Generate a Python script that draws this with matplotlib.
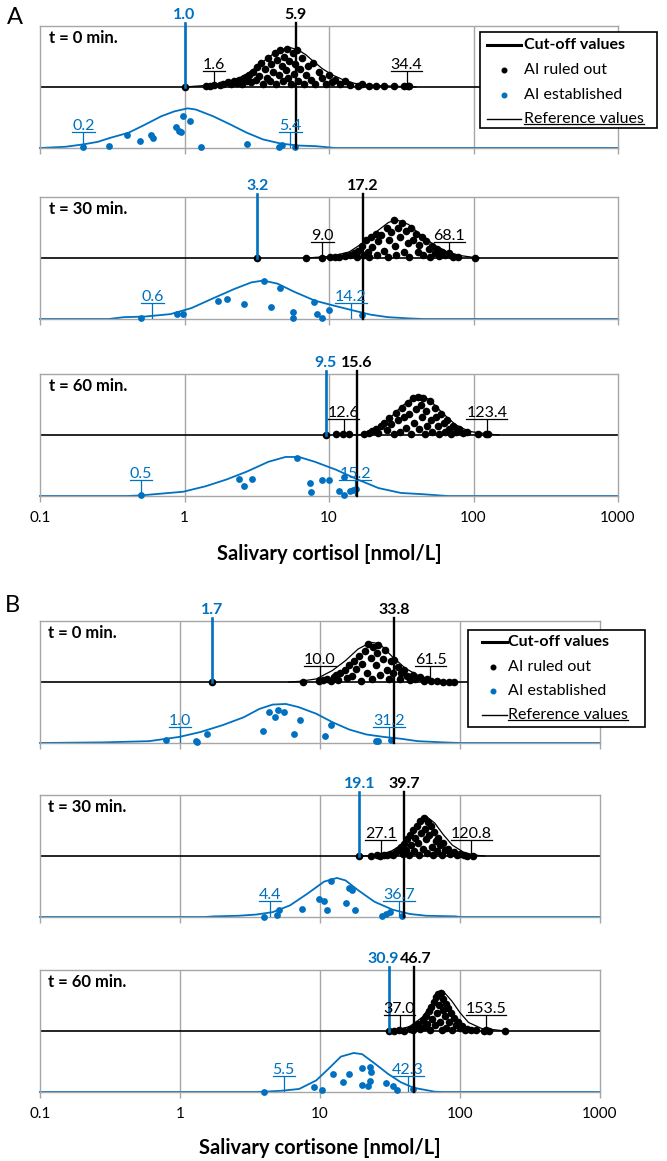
import matplotlib
matplotlib.use('Agg')
import matplotlib.pyplot as plt
from matplotlib.lines import Line2D
from matplotlib.patches import Rectangle
from matplotlib.ticker import NullLocator

plt.rcParams['font.family'] = ['Lato', 'DejaVu Sans']

# ---------------- data ----------------
time_labels = ['t = 0 min.', 't = 30 min.', 't = 60 min.']
tick_values = [0.1, 1, 10, 100, 1000]
tick_labels = ['0.1', '1', '10', '100', '1000']
xlabel_A = 'Salivary cortisol [nmol/L]'
xlabel_B = 'Salivary cortisone [nmol/L]'
legend_labels = ['Cut-off values', 'AI ruled out', 'AI established', 'Reference values']

# cut-off values (blue = AI established, black = AI ruled out)
A_cut_blue = [1.0, 3.2, 9.5]
A_cut_black = [5.9, 17.2, 15.6]
B_cut_blue = [1.7, 19.1, 30.9]
B_cut_black = [33.8, 39.7, 46.7]

# reference values (lower, upper)
A_ref_black = [(1.6, 34.4), (9.0, 68.1), (12.6, 123.4)]
A_ref_blue = [(0.2, 5.4), (0.6, 14.2), (0.5, 15.2)]
B_ref_black = [(10.0, 61.5), (27.1, 120.8), (37.0, 153.5)]
B_ref_blue = [(1.0, 31.2), (4.4, 36.7), (5.5, 42.3)]

# density curves: (value, relative height)
A1_black_curve = [(1.0, 0.0), (1.3, 0.02), (1.6, 0.04), (2.0, 0.08), (2.4, 0.15), (2.8, 0.24), (3.2, 0.34),
                  (3.7, 0.46), (4.2, 0.56), (4.8, 0.62), (5.4, 0.645), (6.1, 0.61), (6.9, 0.53), (7.8, 0.42),
                  (9.0, 0.30), (10.5, 0.2), (12.5, 0.12), (15, 0.06), (19, 0.03), (24, 0.02), (31, 0.01), (40, 0.0)]
A1_blue_curve = [(0.1, 0.0), (0.15, 0.02), (0.2, 0.06), (0.25, 0.1), (0.31, 0.17), (0.41, 0.25), (0.53, 0.38),
                 (0.69, 0.52), (0.85, 0.6), (1.05, 0.65), (1.2, 0.63), (1.58, 0.52), (2.1, 0.38), (2.7, 0.25),
                 (3.5, 0.14), (4.7, 0.07), (6.2, 0.04), (8.1, 0.03), (11, 0.0), (1000, 0.0)]
A2_black_curve = [(7, 0.0), (10.5, 0.03), (13.8, 0.1), (17, 0.24), (21, 0.42), (25.7, 0.58), (29, 0.63),
                  (35.5, 0.55), (43.6, 0.37), (53.7, 0.21), (66, 0.1), (81, 0.04), (100, 0.01), (110, 0.0)]
A2_blue_curve = [(0.1, 0.0), (0.3, 0.0), (0.38, 0.03), (0.53, 0.04), (0.8, 0.08), (1.12, 0.18), (1.58, 0.34),
                 (2.2, 0.49), (2.9, 0.6), (3.5, 0.63), (4.4, 0.58), (5.7, 0.45), (8.0, 0.3), (11.2, 0.21),
                 (14.7, 0.14), (19.5, 0.07), (25.6, 0.03), (35.5, 0.01), (45, 0.0), (1000, 0.0)]
A3_black_curve = [(15, 0.0), (17, 0.01), (21, 0.09), (25.7, 0.25), (31.5, 0.46), (38, 0.61), (44, 0.65),
                  (50, 0.57), (61, 0.36), (75, 0.17), (93, 0.06), (122, 0.02), (150, 0.0)]
A3_blue_curve = [(0.1, 0.0), (0.4, 0.0), (0.5, 0.01), (0.7, 0.04), (0.98, 0.07), (1.4, 0.16), (1.95, 0.27),
                 (2.7, 0.4), (3.8, 0.56), (5.0, 0.64), (6.2, 0.64), (8.0, 0.56), (11.2, 0.43), (15.8, 0.27),
                 (22, 0.13), (31.5, 0.05), (44, 0.03), (66, 0.0), (1000, 0.0)]
B1_black_curve = [(6, 0.0), (7.1, 0.01), (9.4, 0.05), (12.3, 0.19), (15.2, 0.35), (18.7, 0.54), (23, 0.65),
                  (26.6, 0.63), (33, 0.41), (41, 0.22), (50, 0.11), (62, 0.04), (82, 0.01), (95, 0.0)]
B1_blue_curve = [(0.1, 0.0), (0.28, 0.01), (0.6, 0.03), (0.99, 0.1), (1.4, 0.18), (2.0, 0.29), (2.84, 0.42),
                 (3.7, 0.56), (4.6, 0.63), (5.7, 0.64), (7.0, 0.59), (9.4, 0.48), (12.3, 0.34), (16.2, 0.22),
                 (21.4, 0.14), (28.5, 0.1), (37.7, 0.07), (50, 0.03), (76, 0.01), (100, 0.0), (1000, 0.0)]
B2_black_curve = [(20, 0.0), (24.5, 0.01), (30.8, 0.05), (38, 0.18), (43.8, 0.35), (50, 0.54), (57.5, 0.65),
                  (66, 0.54), (76, 0.35), (88, 0.18), (108, 0.05), (134, 0.01), (150, 0.0)]
B2_blue_curve = [(0.1, 0.0), (1.5, 0.0), (1.74, 0.01), (2.6, 0.02), (3.5, 0.04), (4.6, 0.08), (6.1, 0.19),
                 (8.1, 0.38), (10.7, 0.58), (13.2, 0.64), (15.2, 0.6), (18.7, 0.44), (24.5, 0.25), (33, 0.12),
                 (43.7, 0.05), (57.5, 0.02), (93, 0.01), (100, 0.0), (1000, 0.0)]
B3_black_curve = [(30, 0.0), (35, 0.02), (43.4, 0.07), (53.5, 0.22), (61.6, 0.41), (71, 0.63), (76, 0.65),
                  (87.5, 0.49), (100, 0.3), (115, 0.14), (143, 0.04), (177, 0.02), (210, 0.0)]
B3_blue_curve = [(0.1, 0.0), (3.5, 0.0), (4.0, 0.005), (5.3, 0.02), (7.1, 0.05), (9.4, 0.19), (11.5, 0.38),
                 (14.1, 0.58), (17.4, 0.64), (20, 0.62), (24.5, 0.47), (30.5, 0.3), (37.8, 0.16), (46.5, 0.07),
                 (57.7, 0.03), (66, 0.005), (75, 0.0), (1000, 0.0)]

# individual patients: (value, jitter height)
A1_black_dots = [(1.0, 0), (1.4, 0.02), (1.5, 0.02), (1.6, 0.03), (1.75, 0.03), (1.85, 0.05), (2.0, 0.08), (2.1, 0.05),
                 (2.2, 0.1), (2.3, 0.07), (2.4, 0.12), (2.5, 0.05), (2.6, 0.15), (2.7, 0.1), (2.8, 0.2), (2.9, 0.08),
                 (3.0, 0.25), (3.1, 0.12), (3.2, 0.33), (3.3, 0.18), (3.4, 0.4), (3.5, 0.05), (3.6, 0.3), (3.7, 0.15),
                 (3.8, 0.47), (3.9, 0.1), (4.0, 0.38), (4.1, 0.25), (4.2, 0.55), (4.3, 0.05), (4.4, 0.45), (4.5, 0.2),
                 (4.6, 0.6), (4.7, 0.35), (4.8, 0.1), (4.9, 0.5), (5.0, 0.28), (5.1, 0.62), (5.2, 0.15), (5.3, 0.42),
                 (5.5, 0.05), (5.6, 0.55), (5.7, 0.22), (5.8, 0.38), (6.0, 0.6), (6.1, 0.1), (6.3, 0.3), (6.5, 0.48),
                 (6.7, 0.05), (6.9, 0.2), (7.2, 0.35), (7.5, 0.12), (7.8, 0.4), (8.0, 0.05), (8.5, 0.25), (9.0, 0.15),
                 (9.5, 0.05), (10, 0.2), (10.5, 0.08), (11, 0.12), (12, 0.05), (13, 0.1), (14, 0.03), (16, 0.02),
                 (17, 0.05), (19, 0.02), (21, 0.02), (24, 0.01), (28, 0.01), (33, 0.01), (35, 0.01), (36, 0.01)]
A2_black_dots = [(3.2, 0), (6.9, 0), (8.9, 0), (10.2, 0.01), (11, 0.01), (11.8, 0.02), (13, 0.03), (14, 0.05),
                 (15, 0.08), (15.5, 0.02), (16, 0.12), (17, 0.2), (17.5, 0.05), (18, 0.3), (18.5, 0.1), (19, 0.02),
                 (19.5, 0.35), (20, 0.18), (21, 0.4), (21.5, 0.05), (22, 0.28), (23, 0.38), (24, 0.12), (25, 0.5),
                 (25.5, 0.02), (26, 0.3), (27, 0.42), (28, 0.62), (28.5, 0.2), (29, 0.05), (30, 0.5), (31, 0.35),
                 (32, 0.58), (33, 0.1), (34, 0.45), (35, 0.25), (36, 0.02), (37, 0.5), (38, 0.3), (40, 0.4),
                 (41, 0.1), (42, 0.22), (44, 0.35), (45, 0.05), (47, 0.28), (49, 0.15), (50, 0.02), (52, 0.2),
                 (54, 0.08), (56, 0.15), (58, 0.03), (61, 0.1), (64, 0.05), (68, 0.08), (72, 0.02), (78, 0.02),
                 (103, 0.0)]
A3_black_dots = [(9.5, 0), (11.2, 0.01), (12.5, 0.01), (13.8, 0.02), (17.5, 0.02), (19, 0.03), (20, 0.06), (21, 0.1),
                 (22, 0.03), (23, 0.15), (24, 0.2), (25, 0.08), (26, 0.28), (27, 0.18), (28, 0.02), (29, 0.36),
                 (30, 0.25), (31, 0.05), (32, 0.45), (33, 0.3), (34, 0.12), (35, 0.52), (36, 0.35), (37, 0.02),
                 (38, 0.6), (39, 0.2), (40, 0.42), (41, 0.62), (42, 0.1), (43, 0.5), (44, 0.3), (45, 0.6),
                 (46, 0.02), (47, 0.4), (48, 0.15), (50, 0.55), (51, 0.25), (52, 0.05), (54, 0.45), (55, 0.3),
                 (57, 0.15), (58, 0.02), (60, 0.35), (62, 0.2), (64, 0.05), (66, 0.25), (68, 0.1), (70, 0.02),
                 (72, 0.15), (76, 0.05), (80, 0.1), (85, 0.03), (90, 0.05), (107, 0.01), (122, 0.02), (126, 0.01)]
B1_black_dots = [(1.7, 0), (7.6, 0), (9.9, 0.01), (10.5, 0.03), (11.2, 0.05), (12, 0.02), (12.5, 0.08), (13, 0.12),
                 (13.5, 0.04), (14, 0.15), (15, 0.2), (15.5, 0.06), (16, 0.28), (17, 0.1), (17.5, 0.35), (18, 0.22),
                 (19, 0.42), (19.5, 0.02), (20, 0.3), (21, 0.5), (21.5, 0.15), (22, 0.62), (23, 0.4), (23.5, 0.05),
                 (24, 0.58), (25, 0.28), (25.5, 0.48), (26, 0.6), (27, 0.12), (28, 0.38), (29, 0.52), (30, 0.2),
                 (31, 0.05), (32, 0.35), (33, 0.15), (34, 0.36), (36, 0.25), (37, 0.05), (38, 0.15), (40, 0.2),
                 (42, 0.1), (44, 0.03), (46, 0.12), (48, 0.05), (52, 0.08), (55, 0.02), (58, 0.05), (62, 0.02),
                 (68, 0.01), (76, 0.0), (84, 0.0), (91, 0.0)]
B2_black_dots = [(19.1, 0), (23, 0), (25.7, 0.01), (27, 0.0), (28.5, 0.02), (30, 0.01), (31.6, 0.04), (33, 0.02),
                 (35, 0.06), (36, 0.1), (38, 0.15), (39, 0.04), (40, 0.2), (41, 0.1), (42, 0.28), (43, 0.02),
                 (44, 0.35), (45, 0.18), (46, 0.42), (47, 0.08), (48, 0.3), (49, 0.5), (50, 0.22), (51, 0.02),
                 (52, 0.58), (53, 0.38), (54, 0.12), (55, 0.62), (56, 0.45), (57, 0.28), (58, 0.05), (59, 0.55),
                 (60, 0.35), (62, 0.5), (63, 0.15), (64, 0.02), (65, 0.4), (67, 0.25), (68, 0.08), (70, 0.3),
                 (72, 0.18), (74, 0.02), (76, 0.22), (78, 0.1), (82, 0.12), (85, 0.04), (90, 0.06), (95, 0.02),
                 (100, 0.03), (106, 0.01), (112, 0.0), (124, 0.0)]
B3_black_dots = [(30.9, 0), (34, 0), (36.5, 0.01), (40, 0.0), (44, 0.04), (46, 0.02), (48, 0.08), (50, 0.12),
                 (52, 0.03), (54, 0.18), (55, 0.06), (57, 0.25), (58, 0.12), (60, 0.32), (61, 0.02), (62, 0.4),
                 (63, 0.2), (65, 0.48), (66, 0.1), (67, 0.55), (68, 0.3), (70, 0.6), (71, 0.42), (72, 0.15),
                 (73, 0.62), (74, 0.02), (75, 0.35), (76, 0.52), (78, 0.25), (79, 0.45), (80, 0.05), (82, 0.38),
                 (84, 0.15), (86, 0.3), (88, 0.02), (90, 0.22), (93, 0.1), (96, 0.15), (100, 0.05), (104, 0.08),
                 (108, 0.02), (113, 0.04), (120, 0.02), (130, 0.01), (148, 0.0), (154, 0.02), (160, 0.0), (210, 0.0)]

A1_blue_dots = [(0.2, 0.02), (0.30, 0.04), (0.40, 0.21), (0.49, 0.11), (0.59, 0.22), (0.61, 0.17), (0.87, 0.34),
                (0.91, 0.28), (0.95, 0.26), (0.98, 0.53), (1.1, 0.45), (1.3, 0.02), (2.7, 0.06), (4.5, 0.02),
                (4.7, 0.05), (5.8, 0.01)]
A2_blue_dots = [(0.5, 0.02), (0.89, 0.09), (0.98, 0.09), (1.7, 0.3), (1.97, 0.33), (2.6, 0.25), (3.55, 0.63),
                (3.96, 0.2), (4.6, 0.51), (5.6, 0.12), (5.6, 0.02), (7.9, 0.28), (8.2, 0.09), (8.9, 0.02),
                (10, 0.14), (17, 0.07)]
A3_blue_dots = [(0.5, 0.01), (2.37, 0.28), (2.57, 0.16), (2.95, 0.28), (6.0, 0.62), (7.4, 0.22), (7.5, 0.07),
                (9.0, 0.26), (10, 0.26), (11.7, 0.08), (12.6, 0.02), (12.7, 0.31), (14, 0.08), (14.6, 0.1),
                (15.3, 0.12)]
B1_blue_dots = [(0.8, 0.05), (1.3, 0.03), (1.32, 0.02), (1.55, 0.14), (3.9, 0.2), (4.3, 0.51), (4.8, 0.42),
                (5.0, 0.54), (5.5, 0.51), (6.5, 0.15), (7.2, 0.38), (10.8, 0.12), (11.9, 0.3), (25, 0.03),
                (26, 0.03), (32.4, 0.05)]
B2_blue_dots = [(3.95, 0.0), (4.95, 0.04), (5.1, 0.11), (7.4, 0.13), (9.8, 0.3), (10.7, 0.26), (11.2, 0.11),
                (12, 0.59), (15.4, 0.23), (16.1, 0.47), (16.9, 0.45), (17.8, 0.11), (27.6, 0.02), (29.6, 0.05),
                (31.6, 0.08), (38.4, 0.02)]
B3_blue_dots = [(3.95, 0.0), (9.0, 0.08), (10.3, 0.04), (12.4, 0.29), (14.6, 0.16), (16.2, 0.29), (19.9, 0.4),
                (20, 0.12), (21.9, 0.1), (22.7, 0.41), (23.2, 0.33), (22.7, 0.18), (29.5, 0.14), (33.4, 0.1),
                (35.5, 0.04), (46, 0.05)]

# ---------------- figure ----------------
W, H, DPI = 667, 1161, 100
fig = plt.figure(figsize=(W / DPI, H / DPI), dpi=DPI)
BLUE = '#0070C0'
GRID = '#A6A6A6'
FS = 11.5


def to_fig(px, py):
    return px / W, 1 - py / H


def add_ax(l, r, t, b):
    x0, y0 = to_fig(l, b)
    x1, y1 = to_fig(r, t)
    return fig.add_axes([x0, y0, x1 - x0, y1 - y0])


underlines = []


def split(pairs):
    return [p[0] for p in pairs], [p[1] for p in pairs]


def draw_panel(ax, title, cut_blue, cut_black, ref_black, ref_blue,
               bcurve, bdots, lcurve, ldots, show_labels, lab_off=(0, 0)):
    ax.set_xscale('log')
    ax.set_xlim(0.1, 1000)
    ax.set_ylim(0, 2)
    for s in ax.spines.values():
        s.set_color(GRID)
        s.set_linewidth(1)
    ax.set_yticks([])
    ax.set_xticks(tick_values)
    ax.xaxis.set_minor_locator(NullLocator())
    ax.set_xticklabels(tick_labels)
    ax.tick_params(axis='x', direction='out', length=4, width=1, color=GRID, pad=7,
                   labelsize=11, labelbottom=show_labels)
    for g in tick_values[1:-1]:
        ax.axvline(g, color=GRID, lw=1, zorder=0)
    ax.axhline(1, color='black', lw=1.2, zorder=1)

    cx, ch = split(bcurve)
    ax.plot(cx, [1 + v for v in ch], color='black', lw=0.9, zorder=2)
    dx, dh = split(bdots)
    ax.scatter(dx, [1 + v for v in dh], s=30, color='black', linewidths=0, zorder=3)

    cx, ch = split(lcurve)
    ax.plot(cx, ch, color=BLUE, lw=1.3, zorder=2, clip_on=False)
    dx, dh = split(ldots)
    ax.scatter(dx, dh, s=24, color=BLUE, linewidths=0, zorder=3, clip_on=False)

    # cut-off lines
    ax.plot([cut_blue, cut_blue], [1, 2.05], color=BLUE, lw=1.9, zorder=5, clip_on=False)
    ax.plot([cut_black, cut_black], [0, 2.05], color='black', lw=1.7, zorder=5, clip_on=False)
    ax.annotate(f'{cut_blue:.1f}', (cut_blue, 2.07), xytext=(lab_off[0], 0), textcoords='offset pixels',
                ha='center', va='bottom', fontsize=FS, fontweight='bold', color=BLUE, annotation_clip=False)
    ax.annotate(f'{cut_black:.1f}', (cut_black, 2.07), xytext=(lab_off[1], 0), textcoords='offset pixels',
                ha='center', va='bottom', fontsize=FS, fontweight='bold', color='black', annotation_clip=False)

    # reference values
    for vals, base, col in [(ref_black, 1, 'black'), (ref_blue, 0, BLUE)]:
        for v in vals:
            ax.plot([v, v], [base, base + 0.25], color=col, lw=0.9, zorder=4)
            t = ax.text(v, base + 0.30, f'{v:.1f}', ha='center', va='baseline', fontsize=FS,
                        color=col, zorder=6)
            underlines.append((ax, t, col, base + 0.26))

    ax.text(0.115, 1.8, title, ha='left', va='center', fontsize=FS + 0.5, fontweight='bold', zorder=6)


A_rows = [(26, 148), (197, 319), (374, 496)]
B_rows = [(621, 743), (795, 917), (970, 1092)]

A_data = [(A1_black_curve, A1_black_dots, A1_blue_curve, A1_blue_dots),
          (A2_black_curve, A2_black_dots, A2_blue_curve, A2_blue_dots),
          (A3_black_curve, A3_black_dots, A3_blue_curve, A3_blue_dots)]
B_data = [(B1_black_curve, B1_black_dots, B1_blue_curve, B1_blue_dots),
          (B2_black_curve, B2_black_dots, B2_blue_curve, B2_blue_dots),
          (B3_black_curve, B3_black_dots, B3_blue_curve, B3_blue_dots)]

for i in range(3):
    ax = add_ax(40, 618, *A_rows[i])
    bc, bd, lc, ld = A_data[i]
    draw_panel(ax, time_labels[i], A_cut_blue[i], A_cut_black[i], A_ref_black[i], A_ref_blue[i],
               bc, bd, lc, ld, show_labels=(i == 2))
for i in range(3):
    ax = add_ax(40, 600, *B_rows[i])
    bc, bd, lc, ld = B_data[i]
    off = (-5, 2) if i == 2 else (0, 0)
    draw_panel(ax, time_labels[i], B_cut_blue[i], B_cut_black[i], B_ref_black[i], B_ref_blue[i],
               bc, bd, lc, ld, show_labels=(i == 2), lab_off=off)

fig.text(*to_fig(329, 554), xlabel_A, ha='center', va='center', fontsize=14.5, fontweight='bold')
fig.text(*to_fig(320, 1148), xlabel_B, ha='center', va='center', fontsize=14.5, fontweight='bold')
fig.text(*to_fig(15, 17), 'A', ha='center', va='center', fontsize=17)
fig.text(*to_fig(12, 605), 'B', ha='center', va='center', fontsize=17)


def draw_legend(box, rows, hx0, hx1, dotx, textx):
    l, t, r, b = box
    x0, y0 = to_fig(l, b)
    x1, y1 = to_fig(r, t)
    fig.add_artist(Rectangle((x0, y0), x1 - x0, y1 - y0, transform=fig.transFigure,
                             facecolor='white', edgecolor='black', lw=1.2, zorder=10))
    tf = fig.transFigure
    ya = to_fig(0, rows[0])[1]
    fig.add_artist(Line2D([hx0 / W, hx1 / W], [ya, ya], color='black', lw=2.2, transform=tf, zorder=11))
    fig.add_artist(Line2D([dotx / W], [to_fig(0, rows[1])[1]], marker='o', ms=3.3, color='black',
                          transform=tf, zorder=11, lw=0))
    fig.add_artist(Line2D([dotx / W], [to_fig(0, rows[2])[1]], marker='o', ms=3.3, color=BLUE,
                          transform=tf, zorder=11, lw=0))
    yd = to_fig(0, rows[3])[1]
    fig.add_artist(Line2D([hx0 / W, hx1 / W], [yd, yd], color='black', lw=1.0, transform=tf, zorder=11))
    texts = []
    for k, lab in enumerate(legend_labels):
        t = fig.text(textx / W, to_fig(0, rows[k])[1], lab, ha='left', va='center', fontsize=FS,
                     fontweight='bold' if k == 0 else 'normal', zorder=12)
        texts.append(t)
    underlines.append((None, texts[3], 'black', None))


draw_legend((480, 32, 657, 128), [45, 70, 95, 119], 487, 521, 504, 524)
draw_legend((468, 630, 645, 727), [642, 667, 691, 715], 482, 507, 493, 508)

# underline the reference-value labels
fig.canvas.draw()
rend = fig.canvas.get_renderer()
for ax, t, col, y in underlines:
    bb = t.get_window_extent(rend)
    if ax is None:
        yy = (bb.y0 + 2.5) / H
        fig.add_artist(Line2D([bb.x0 / W, bb.x1 / W], [yy, yy], color=col, lw=0.9,
                              transform=fig.transFigure, zorder=12))
    else:
        inv = ax.transData.inverted()
        xa = inv.transform((bb.x0, 0))[0]
        xb = inv.transform((bb.x1, 0))[0]
        ax.plot([xa, xb], [y, y], color=col, lw=0.9, zorder=6, clip_on=False)

fig.savefig('out.png', dpi=DPI)
